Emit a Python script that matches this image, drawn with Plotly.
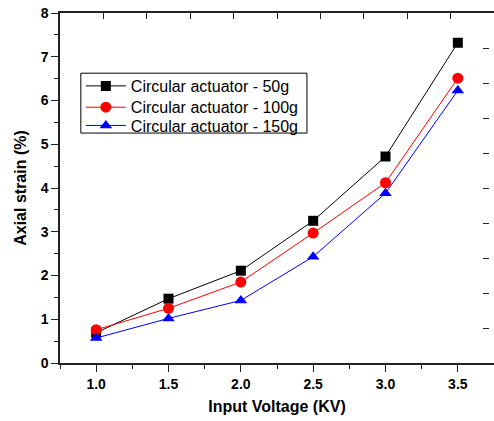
import plotly.graph_objects as go

voltage = [1.0, 1.5, 2.0, 2.5, 3.0, 3.5]
strain_50g = [0.69, 1.47, 2.11, 3.25, 4.72, 7.32]
strain_100g = [0.76, 1.25, 1.85, 2.97, 4.12, 6.51]
strain_150g = [0.57, 1.02, 1.43, 2.43, 3.88, 6.23]
names = ["Circular actuator - 50g", "Circular actuator - 100g", "Circular actuator - 150g"]

top_ticks = [0.75 + 0.3 * k for k in range(11)]
right_ticks = [0.8 * k for k in range(1, 10)]

FONT = "Arial, Liberation Sans, sans-serif"

fig = go.Figure()
fig.add_trace(go.Scatter(x=voltage, y=strain_50g, name=names[0], mode="lines+markers",
                         line=dict(color="black", width=1), legend="legend",
                         marker=dict(symbol="square", size=10, color="black")))
fig.add_trace(go.Scatter(x=voltage, y=strain_100g, name=names[1], mode="lines+markers",
                         line=dict(color="red", width=1), legend="legend2",
                         marker=dict(symbol="circle", size=11, color="red")))
fig.add_trace(go.Scatter(x=voltage, y=strain_150g, name=names[2], mode="lines+markers",
                         line=dict(color="blue", width=1), legend="legend3",
                         marker=dict(symbol="triangle-up", size=11, color="blue")))
# invisible trace to carry the secondary (top/right) axes
fig.add_trace(go.Scatter(x=[None], y=[None], xaxis="x2", yaxis="y2", showlegend=False,
                         hoverinfo="skip"))

axis_line = dict(showline=True, linecolor="#222", linewidth=1.5, showgrid=False, zeroline=False)

def leg(yc):
    return dict(x=0.048, y=yc, xanchor="left", yanchor="middle",
                borderwidth=0, bgcolor="rgba(0,0,0,0)",
                font=dict(size=16, family=FONT), itemwidth=40)

fig.update_layout(
    width=494, height=421,
    margin=dict(l=60, r=0, t=13, b=58, autoexpand=False),
    plot_bgcolor="white", paper_bgcolor="white",
    font=dict(family=FONT, color="black"),
    xaxis=dict(range=[0.75, 3.75], tickvals=voltage, ticktext=["1.0", "1.5", "2.0", "2.5", "3.0", "3.5"],
               ticks="outside", ticklen=7, tickwidth=1, tickcolor="#222",
               minor=dict(dtick=0.25, tick0=0.75, ticks="outside", ticklen=4, tickcolor="#222"),
               tickfont=dict(size=14, family=FONT, weight="bold"),
               title=dict(text="<b>Input Voltage (KV)</b>", font=dict(size=16, family=FONT), standoff=10),
               automargin=False, **axis_line),
    yaxis=dict(range=[0, 8], dtick=1, tick0=0,
               ticks="outside", ticklen=7, tickwidth=1, tickcolor="#222",
               minor=dict(dtick=0.5, ticks="outside", ticklen=4, tickcolor="#222"),
               tickfont=dict(size=14, family=FONT, weight="bold"),
               title=dict(text="<b>Axial strain (%)</b>", font=dict(size=16, family=FONT), standoff=10),
               automargin=False, **axis_line),
    xaxis2=dict(overlaying="x", side="top", anchor="y", range=[0.75, 3.75], tickvals=top_ticks,
                ticks="inside", ticklen=6, tickcolor="#222", showticklabels=False,
                automargin=False, **axis_line),
    yaxis2=dict(overlaying="y", side="right", anchor="free", position=0.9724, range=[0, 8],
                tickvals=right_ticks, ticks="outside", ticklen=6, tickcolor="#222",
                showticklabels=False, showline=False, showgrid=False, zeroline=False,
                automargin=False),
    legend=leg(0.7915),
    legend2=leg(0.7305),
    legend3=leg(0.6785),
    shapes=[dict(type="rect", xref="paper", yref="paper", x0=0.048, x1=0.569, y0=0.657, y1=0.828,
                 line=dict(color="black", width=1), fillcolor="white", layer="below")],
    showlegend=True,
)

fig.write_html("out.html", post_script="document.body.style.margin='0';",
               config={"displayModeBar": False})
